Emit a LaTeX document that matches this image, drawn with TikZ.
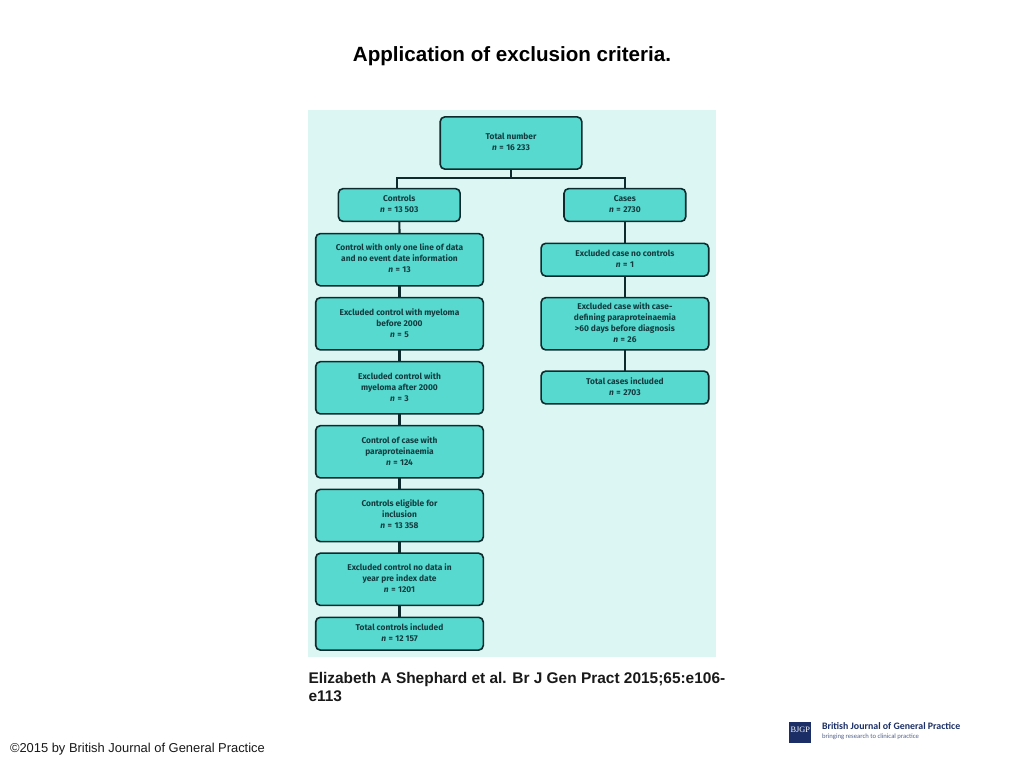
\documentclass[tikz,border=0pt]{standalone}
\usepackage{fontspec}
\setmainfont{Liberation Sans}
\newfontfamily\boxfont{Fira Sans}
\newfontfamily\logofont{Carlito}
\newfontfamily\logoserif{Liberation Serif}
\definecolor{panel}{HTML}{DCF6F3}
\definecolor{boxfill}{HTML}{58D9CF}
\definecolor{boxline}{HTML}{0E2A2C}
\definecolor{boxtext}{HTML}{123C40}
\definecolor{navy}{HTML}{1B2F66}
\tikzset{
  flowbox/.style={draw=boxline,fill=boxfill,line width=1.2pt,rounded corners=3.5pt,
    align=center,inner sep=0pt,outer sep=0pt,text=boxtext,anchor=center,
    font=\boxfont\bfseries\fontsize{6.3}{8.25}\selectfont},
  wide/.style={flowbox,minimum width=125.7pt},
  mid/.style={flowbox,minimum width=91.3pt},
  tall/.style={minimum height=39.2pt},
  short/.style={minimum height=24.6pt},
  link/.style={draw=boxline,line width=1.6pt},
  plain/.style={inner sep=0pt,outer sep=0pt,align=left,anchor=west}
}
\newcommand{\nn}{\textit{n}\hspace{0.3em}=\hspace{0.3em}}
\newcommand{\up}[1]{\raisebox{0.75pt}{\begin{tabular}{@{}c@{}}#1\end{tabular}}}
\begin{document}
\begin{tikzpicture}[x=0.75pt,y=-0.75pt]
\useasboundingbox (0,0) rectangle (1024,768);
\fill[white] (0,0) rectangle (1024,768);
\node[inner sep=0pt,font=\bfseries\fontsize{15.45}{18}\selectfont] (title) at (512,56) {Application of exclusion criteria.};
\node[fill=panel,inner sep=0pt,minimum width=306pt,minimum height=410.3pt] (panelbg) at (512,383.5) {};
% boxes
\node[flowbox,minimum width=106.2pt,minimum height=39.2pt] (total) at (511,143) {\raisebox{1.5pt}{\begin{tabular}{@{}c@{}}Total number\\\nn 16 233\end{tabular}}};
\node[mid,short] (controls) at (399.3,205) {\up{Controls\\\nn 13 503}};
\node[mid,short] (cases) at (624.9,205) {\up{Cases\\\nn 2730}};
\node[wide,tall] (c1) at (399.5,259.7) {\up{Control with only one line of data\\and no event date information\\\nn 13}};
\node[wide,tall] (c2) at (399.5,323.8) {\up{Excluded control with myeloma\\before 2000\\\nn 5}};
\node[wide,tall] (c3) at (399.5,387.8) {\up{Excluded control with\\myeloma after 2000\\\nn 3}};
\node[wide,tall] (c4) at (399.5,451.8) {\up{Control of case with\\paraproteinaemia\\\nn 124}};
\node[wide,tall] (c5) at (399.5,515.5) {\up{Controls eligible for\\inclusion\\\nn 13 358}};
\node[wide,tall] (c6) at (399.5,579.3) {\up{Excluded control no data in\\year pre index date\\\nn 1201}};
\node[wide,short] (c7) at (399.5,633.7) {\up{Total controls included\\\nn 12 157}};
\node[wide,short] (r1) at (624.9,259.7) {\up{Excluded case no controls\\\nn 1}};
\node[wide,tall] (r2) at (624.9,323.8) {\up{Excluded case with case-\\defining paraproteinaemia\\>60 days before diagnosis\\\nn 26}};
\node[wide,short] (r3) at (624.9,387.5) {\up{Total cases included\\\nn 2703}};
% connectors
\coordinate (busL) at (396.7,178.3);
\coordinate (busR) at (625,178.3);
\draw[link] (total.south) -- (total.south |- busL);
\draw[link] (controls.north -| busL) -- (busL) -- (busR) -- (cases.north -| busR);
\foreach \a/\b in {controls/c1,c1/c2,c2/c3,c3/c4,c4/c5,c5/c6,c6/c7,cases/r1,r1/r2,r2/r3}
  \draw[link] (\a.south) -- (\b.north);
% citation and footer
\node[plain,font=\bfseries\fontsize{11.58}{14}\selectfont,text=black!90] (cite1) at (308.5,679.3) {Elizabeth A Shephard et al. Br J Gen Pract 2015;65:e106-};
\node[plain,font=\bfseries\fontsize{11.58}{14}\selectfont,text=black!90] (cite2) at (308.5,696) {e113};
\node[plain,font=\fontsize{9.68}{12}\selectfont,text=black!90] (copy) at (10,749) {©2015 by British Journal of General Practice};
% logo
\node[fill=navy,text=white,inner sep=0pt,minimum width=16.4pt,minimum height=16.2pt,anchor=center,font=\logoserif\fontsize{6.2}{7}\selectfont] (logo) at (800.2,732.5) {\raisebox{4.6pt}{BJGP}};
\node[plain,text=navy,font=\logofont\bfseries\fontsize{7.4}{9}\selectfont] (logo1) at (822,726.5) {British Journal of General Practice};
\node[plain,text=navy!75,font=\logofont\fontsize{5.0}{7}\selectfont] (logo2) at (822,736.8) {bringing research to clinical practice};
\end{tikzpicture}
\end{document}
